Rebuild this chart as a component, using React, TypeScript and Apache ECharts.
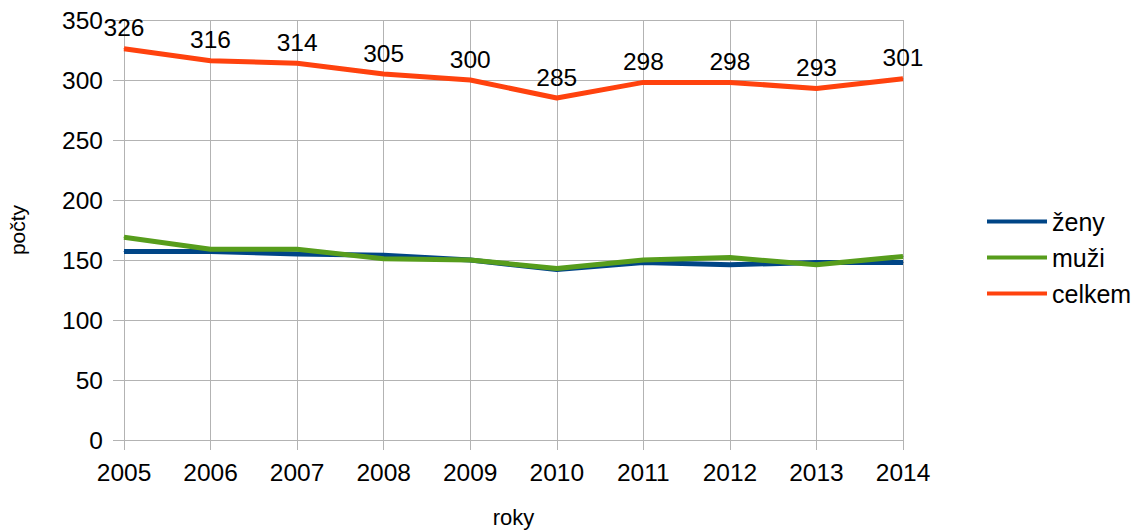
import React, { useEffect, useRef } from "react";
import * as echarts from "echarts";

const years = ["2005", "2006", "2007", "2008", "2009", "2010", "2011", "2012", "2013", "2014"];
const zeny = [157, 157, 155, 154, 150, 142, 148, 146, 148, 148];
const muzi = [169, 159, 159, 151, 150, 143, 150, 152, 146, 153];
const celkem = [326, 316, 314, 305, 300, 285, 298, 298, 293, 301];

export default function App() {
  const ref = useRef<HTMLDivElement>(null);
  useEffect(() => {
    const chart = echarts.init(ref.current!, null, { renderer: "svg" });
    const font = "Liberation Sans, Arial, sans-serif";
    const mk = (name: string, data: number[], color: string, label: boolean, z: number) => ({
      name,
      type: "line",
      data,
      symbol: "circle",
      symbolSize: 1,
      showSymbol: true,
      z,
      lineStyle: { color, width: 5 },
      itemStyle: { color },
      label: label
        ? { show: true, position: "top", distance: 8, fontSize: 24.5, color: "#000", fontFamily: font }
        : { show: false },
      labelLayout: { hideOverlap: false },
    });
    chart.setOption({
      animation: false,
      textStyle: { fontFamily: font },
      grid: { left: 124, right: 238, top: 20, bottom: 91, containLabel: false, outerBoundsMode: "none" },
      legend: {
        orient: "vertical",
        left: 982,
        top: 204,
        icon: "rect",
        itemWidth: 60,
        itemHeight: 4,
        itemGap: 11,
        textStyle: { fontSize: 25, lineHeight: 25, color: "#000", fontFamily: font },
        data: ["ženy", "muži", "celkem"],
      },
      xAxis: {
        type: "category",
        data: years,
        boundaryGap: false,
        name: "roky",
        nameLocation: "middle",
        nameGap: 66,
        nameTextStyle: { fontSize: 22, color: "#000", fontFamily: font },
        axisLine: { lineStyle: { color: "#b3b3b3", width: 1 } },
        axisTick: { show: true, length: 10, lineStyle: { color: "#b3b3b3" } },
        axisLabel: { fontSize: 24.5, color: "#000", margin: 20, fontFamily: font },
        splitLine: { show: true, lineStyle: { color: "#b3b3b3", width: 1 } },
      },
      yAxis: {
        type: "value",
        min: 0,
        max: 350,
        interval: 50,
        name: "počty",
        nameLocation: "middle",
        nameGap: 96,
        nameRotate: 90,
        nameTextStyle: { fontSize: 21, color: "#000", fontFamily: font },
        axisLine: { show: true, lineStyle: { color: "#b3b3b3", width: 1 } },
        axisTick: { show: true, length: 11, lineStyle: { color: "#b3b3b3" } },
        axisLabel: { fontSize: 24.5, color: "#000", margin: 21, fontFamily: font },
        splitLine: { show: true, lineStyle: { color: "#b3b3b3", width: 1 } },
      },
      series: [
        mk("ženy", zeny, "#004586", false, 2),
        mk("muži", muzi, "#579d1c", false, 3),
        mk("celkem", celkem, "#ff420e", true, 4),
      ],
    });
    return () => chart.dispose();
  }, []);
  return <div ref={ref} style={{ width: 1141, height: 531, position: "absolute", left: 0, top: 0 }} />;
}
